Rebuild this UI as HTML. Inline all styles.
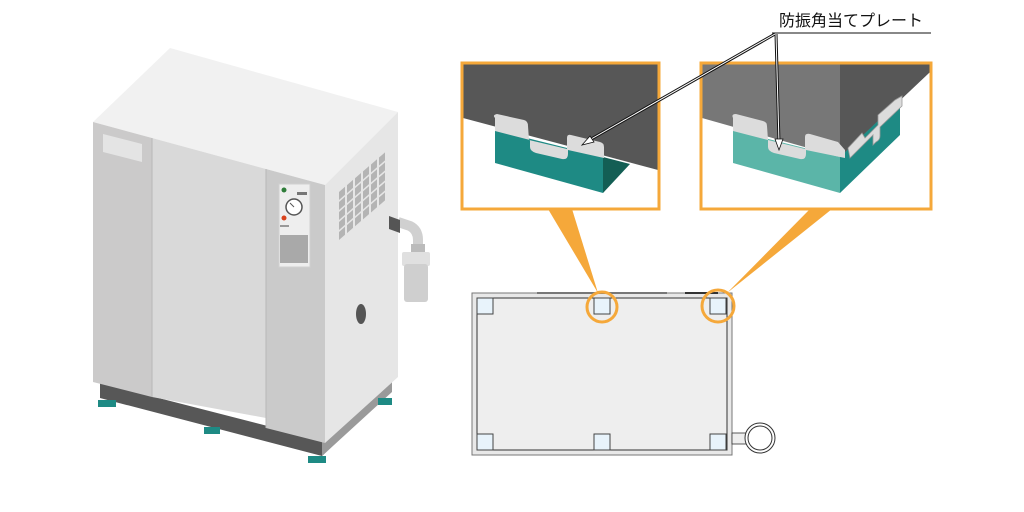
<!DOCTYPE html>
<html><head><meta charset="utf-8"><style>
html,body{margin:0;padding:0;background:#fff}
svg{display:block}
</style></head><body>
<svg width="1024" height="512" viewBox="0 0 1024 512" xmlns="http://www.w3.org/2000/svg">
<!-- Machine -->
<polygon points="100,383 322,440 392,378 392,390 322,456 100,398" fill="#575757"/>
<polygon points="322,440 392,378 392,392 322,456" fill="#9a9a9a"/>
<polygon points="93,122 170,48 398,112 325,185" fill="#f1f1f1"/>
<polygon points="325,185 398,112 398,377 325,443" fill="#e6e6e6"/>
<polygon points="93,122 152,138 152,397 93,382" fill="#cbcaca"/>
<polygon points="152,138 266,169 266,418 152,397" fill="#d9d9d9"/>
<polygon points="266,169 325,185 325,443 266,428" fill="#cacaca"/>
<line x1="152" y1="138" x2="152" y2="397" stroke="#b8b8b8"/>
<line x1="266" y1="169" x2="266" y2="428" stroke="#b8b8b8"/>
<polygon points="103,134 142,144 142,162 103,152" fill="#e4e4e4"/>
<rect x="279" y="184" width="31" height="83" fill="#eeeeee" stroke="#d0d0d0"/>
<circle cx="284" cy="190" r="2.5" fill="#2f7d3a"/>
<circle cx="284" cy="218" r="2.5" fill="#d9421c"/>
<rect x="297" y="192" width="10" height="3" fill="#777"/>
<circle cx="294" cy="207" r="8" fill="#fff" stroke="#555" stroke-width="1.5"/>
<line x1="294" y1="207" x2="290" y2="203" stroke="#555"/>
<rect x="280" y="225" width="9" height="2" fill="#999"/>
<rect x="280" y="235" width="28" height="28" fill="#a9a9a9"/>
<g fill="#b4b4b4" transform="matrix(1,-0.86,0,1,0,0)">
<rect x="339" y="483.5" width="6" height="8"/><rect x="347" y="483.5" width="6" height="8"/><rect x="355" y="483.5" width="6" height="8"/><rect x="363" y="483.5" width="6" height="8"/><rect x="371" y="483.5" width="6" height="8"/><rect x="379" y="483.5" width="6" height="8"/>
<rect x="339" y="493.5" width="6" height="8"/><rect x="347" y="493.5" width="6" height="8"/><rect x="355" y="493.5" width="6" height="8"/><rect x="363" y="493.5" width="6" height="8"/><rect x="371" y="493.5" width="6" height="8"/><rect x="379" y="493.5" width="6" height="8"/>
<rect x="339" y="503.5" width="6" height="8"/><rect x="347" y="503.5" width="6" height="8"/><rect x="355" y="503.5" width="6" height="8"/><rect x="363" y="503.5" width="6" height="8"/><rect x="371" y="503.5" width="6" height="8"/><rect x="379" y="503.5" width="6" height="8"/>
<rect x="339" y="513.5" width="6" height="8"/><rect x="347" y="513.5" width="6" height="8"/><rect x="355" y="513.5" width="6" height="8"/><rect x="363" y="513.5" width="6" height="8"/><rect x="371" y="513.5" width="6" height="8"/><rect x="379" y="513.5" width="6" height="8"/>
<rect x="339" y="523.5" width="6" height="8"/><rect x="347" y="523.5" width="6" height="8"/><rect x="355" y="523.5" width="6" height="8"/><rect x="363" y="523.5" width="6" height="8"/><rect x="371" y="523.5" width="6" height="8"/><rect x="379" y="523.5" width="6" height="8"/>
</g>
<ellipse cx="361" cy="314" rx="5" ry="10" fill="#555"/>
<path d="M398,222 L410,226 Q418,230 418,240 L418,248" stroke="#d0d0d0" stroke-width="10" fill="none"/>
<polygon points="389,216 400,220 400,233 389,229" fill="#555"/>
<rect x="411" y="244" width="14" height="8" fill="#bbb"/>
<rect x="402" y="252" width="28" height="14" fill="#e0e0e0" rx="2"/>
<rect x="404" y="264" width="24" height="38" fill="#cfcfcf" rx="3"/>
<!-- feet -->
<g fill="#1e8a84"><rect x="98" y="400" width="18" height="7"/><rect x="204" y="427" width="16" height="7"/><rect x="308" y="456" width="18" height="7"/><rect x="378" y="398" width="14" height="7"/></g>
<!-- orange callouts -->
<polygon points="548,209 572,209 598,293" fill="#f5a83a"/>
<polygon points="810,209 832,209 727,293" fill="#f5a83a"/>
<!-- left zoom box -->
<rect x="462" y="63" width="197" height="146" fill="#fff"/>
<polygon points="463,64 658,64 658,170 463,118" fill="#575757"/>
<polygon points="495,130 603,157 603,193 495,163" fill="#1e8a84"/>
<polygon points="603,157 630,164 603,193" fill="#135e54"/>
<path d="M495,118 Q492,115 497,114 L524,120 Q528,121 528,126 L529,140 L567,149 L567,138 Q567,134 571,135 L600,142 Q604,143 604,147 L604,158 L568,150 L568,154 Q568,160 562,159 L536,153 Q530,151 530,147 L530,140 L495,131 Z" fill="#dcdcdc"/>
<rect x="462" y="63" width="197" height="146" fill="none" stroke="#f5a83a" stroke-width="3"/>
<!-- right zoom box -->
<rect x="701" y="63" width="230" height="146" fill="#fff"/>
<polygon points="702,64 930,64 930,72 840,157 702,118" fill="#777"/>
<polygon points="840,64 930,64 930,72 840,157" fill="#575757"/>
<polygon points="733,130 840,157 840,193 733,163" fill="#5bb5a8"/>
<polygon points="840,157 900,100 900,135 840,193" fill="#1e8a84"/>
<path d="M733,118 Q731,114 736,114 L763,121 Q767,122 767,126 L768,140 L805,149 L805,137 Q805,133 810,134 L838,142 L845,150 L845,158 L806,150 L806,154 Q806,160 800,159 L774,153 Q768,151 768,147 L768,140 L733,131 Z" fill="#dcdcdc"/>
<path d="M848,148 L862,133 L865,138 L878,125 L878,115 L895,100 L902,96 L902,106 L880,127 L880,136 Q880,140 876,142 L873,145 L873,135 L850,158 Z" fill="#dcdcdc" stroke="#999" stroke-width="0.8"/>
<rect x="701" y="63" width="230" height="146" fill="none" stroke="#f5a83a" stroke-width="3"/>
<!-- label -->
<text x="779" y="26" font-family="'Liberation Sans','Noto Sans CJK JP',sans-serif" font-size="16" fill="#111">防振角当てプレート</text>
<line x1="772" y1="33" x2="931" y2="33" stroke="#111"/>
<g stroke="#111" stroke-width="3" fill="none"><line x1="775" y1="34" x2="586" y2="142"/><line x1="776" y1="34" x2="779" y2="143"/></g>
<g stroke="#fff" stroke-width="1" fill="none"><line x1="775" y1="34" x2="586" y2="142"/><line x1="776" y1="34" x2="779" y2="143"/></g>
<polygon points="582,145 590,136 594,142" fill="#fff" stroke="#111" stroke-width="0.8"/>
<polygon points="779,150 775,139 783,139" fill="#fff" stroke="#111" stroke-width="0.8"/>
<!-- plan view -->
<rect x="472" y="293" width="260" height="162" fill="#e8e8e8" stroke="#777" stroke-width="1"/>
<rect x="477" y="298" width="250" height="152" fill="#eeeeee" stroke="#333" stroke-width="1"/>
<line x1="537" y1="293" x2="667" y2="293" stroke="#777" stroke-width="2"/>
<line x1="685" y1="293" x2="718" y2="293" stroke="#333" stroke-width="2"/>
<g fill="#e8f3fb" stroke="#444" stroke-width="1">
<rect x="477" y="298" width="16" height="16"/><rect x="594" y="298" width="16" height="16"/><rect x="710" y="298" width="16" height="16"/>
<rect x="477" y="434" width="16" height="16"/><rect x="594" y="434" width="16" height="16"/><rect x="710" y="434" width="16" height="16"/>
</g>
<g fill="none" stroke="#f5a83a" stroke-width="3"><circle cx="602" cy="307" r="15"/><circle cx="718" cy="306" r="16"/></g>
<rect x="732" y="433" width="17" height="11" fill="#eee" stroke="#333" stroke-width="0.8"/>
<circle cx="760" cy="438" r="15" fill="#fff" stroke="#333"/>
<circle cx="760" cy="438" r="12" fill="#fff" stroke="#333"/>
</svg>
</body></html>
